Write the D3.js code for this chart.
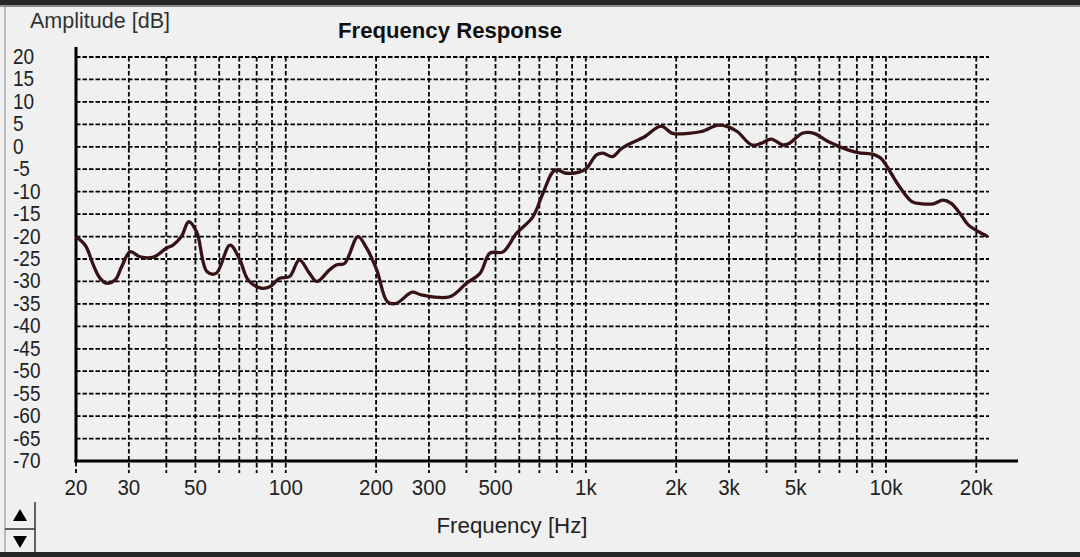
<!DOCTYPE html>
<html><head><meta charset="utf-8">
<script src="https://cdn.jsdelivr.net/npm/d3@7"></script>
<style>html,body{margin:0;padding:0;background:#f0f0f0;overflow:hidden}svg{display:block}</style>
</head><body><svg id="c" width="1080" height="557"></svg>
<script>
const freqs = [20,21.5,22.8,24.0,25.3,27.0,28.4,30.3,32.7,36.2,40,42.1,44.9,47.5,50.5,54.6,58.6,65.2,70.3,75,82.7,88.5,95.4,103,111,120,127,140,148,157,174,185,201,218,233,264,283,352,400,444,479,530,587,666,719,788,862,955,1005,1085,1140,1225,1320,1575,1780,1945,2200,2430,2760,2965,3195,3570,3850,4150,4530,4770,5270,5750,6440,7470,8060,9160,9640,10400,11100,12200,13200,14400,15450,16500,17800,18800,21800];
const amplitude = [-20.0,-22.0,-26.2,-29.2,-30.4,-29.7,-26.7,-23.4,-24.5,-24.6,-22.6,-21.9,-20.0,-16.7,-19.0,-27.8,-28.2,-21.9,-25.2,-29.7,-31.5,-31.2,-29.3,-28.9,-25.2,-28.2,-30.0,-27.4,-26.3,-26.0,-20.0,-22.3,-27.4,-34.5,-34.9,-32.4,-33.0,-33.4,-30.4,-28.2,-23.7,-23.4,-19.3,-15.6,-10.4,-5.2,-5.9,-5.6,-4.8,-1.8,-1.4,-2.2,-0.3,2.3,4.6,3.0,3.0,3.4,4.8,4.5,3.4,0.4,0.8,1.7,0.4,0.8,3.0,3.0,1.1,-0.7,-1.3,-1.8,-2.6,-5.9,-8.9,-12.2,-12.7,-12.7,-11.9,-12.6,-15.2,-17.4,-20.0];
const gridFreqs = [20,30,40,50,60,70,80,90,100,200,300,400,500,600,700,800,900,1000,2000,3000,4000,5000,6000,7000,8000,9000,10000,20000];
const xTickValues = [20,30,50,100,200,300,500,1000,2000,3000,5000,10000,20000];
const xTickLabels = ["20","30","50","100","200","300","500","1k","2k","3k","5k","10k","20k"];
const yTickValues = [20,15,10,5,0,-5,-10,-15,-20,-25,-30,-35,-40,-45,-50,-55,-60,-65,-70];
const titleText = "Frequency Response";
const yTitle = "Amplitude [dB]";
const xTitle = "Frequency [Hz]";

const svg = d3.select("#c");
const font = "'Liberation Sans', Arial, sans-serif";
const x = d3.scaleLog().domain([20, 22050]).range([76, 989]);
const y = d3.scaleLinear().domain([-70, 20]).range([461, 57]);

// frame
svg.append("rect").attr("x",0).attr("y",0).attr("width",1080).attr("height",557).attr("fill","#f0f0f0");
svg.append("rect").attr("x",0).attr("y",0).attr("width",1080).attr("height",5).attr("fill","#262626");
svg.append("rect").attr("x",0).attr("y",5).attr("width",1080).attr("height",2).attr("fill","#8a8a8a");
svg.append("rect").attr("x",0).attr("y",552).attr("width",1080).attr("height",5).attr("fill","#262626");
svg.append("line").attr("x1",5).attr("x2",5).attr("y1",7).attr("y2",552).attr("stroke","#a8a8a8").attr("stroke-width",1.5);

// horizontal grid
svg.append("g").selectAll("line").data(yTickValues.filter(v=>v>-70)).join("line")
  .attr("x1",x(20)).attr("x2",x(22050)).attr("y1",d=>y(d)).attr("y2",d=>y(d))
  .attr("stroke","#000").attr("stroke-width",1.8).attr("stroke-dasharray","4.5,2");
// vertical grid + ticks below
svg.append("g").selectAll("line").data(gridFreqs.filter(f=>f>20)).join("line")
  .attr("x1",d=>x(d)).attr("x2",d=>x(d)).attr("y1",y(20)).attr("y2",473)
  .attr("stroke","#000").attr("stroke-width",1.8).attr("stroke-dasharray","4.5,2.5");
svg.append("line").attr("x1",x(20)).attr("x2",x(20)).attr("y1",462).attr("y2",473)
  .attr("stroke","#000").attr("stroke-width",1.8).attr("stroke-dasharray","4.5,2.5");

// axes lines
svg.append("line").attr("x1",x(20)).attr("x2",x(20)).attr("y1",47).attr("y2",462.5).attr("stroke","#000").attr("stroke-width",3);
svg.append("line").attr("x1",74.5).attr("x2",1018).attr("y1",461).attr("y2",461).attr("stroke","#000").attr("stroke-width",3);

// curve
const pts = freqs.map((f,i)=>[f, amplitude[i]]);
svg.append("path").datum(pts)
  .attr("d", d3.line().x(d=>x(d[0])).y(d=>y(d[1])).curve(d3.curveCatmullRom.alpha(0.5)))
  .attr("fill","none").attr("stroke","#361214").attr("stroke-width",3.3).attr("stroke-linejoin","round");

// y labels
svg.append("g").selectAll("text").data(yTickValues).join("text")
  .attr("transform",d=>`translate(13,${y(d)+7}) scale(0.95,1.1)`).attr("font-family",font).attr("font-size",20).attr("fill","#222")
  .text(d=>String(d));
// x labels
svg.append("g").selectAll("text").data(xTickValues).join("text")
  .attr("transform",d=>`translate(${x(d)},495) scale(1,1.1)`).attr("text-anchor","middle").attr("font-family",font).attr("font-size",20.5).attr("fill","#222")
  .text((d,i)=>xTickLabels[i]);

// titles
svg.append("text").attr("x",450).attr("y",38).attr("text-anchor","middle").attr("font-family",font)
  .attr("font-weight","bold").attr("font-size",21.5).attr("fill","#111").attr("textLength",224).attr("lengthAdjust","spacingAndGlyphs").text(titleText);
svg.append("text").attr("x",30).attr("y",28).attr("font-family",font).attr("font-size",21.5).attr("fill","#333")
  .attr("textLength",140).attr("lengthAdjust","spacingAndGlyphs").text(yTitle);
svg.append("text").attr("x",512).attr("y",533).attr("text-anchor","middle").attr("font-family",font).attr("font-size",21.5).attr("fill","#222")
  .attr("textLength",151).attr("lengthAdjust","spacingAndGlyphs").text(xTitle);

// spin buttons
const sb = svg.append("g");
sb.append("line").attr("x1",35).attr("x2",35).attr("y1",502).attr("y2",552).attr("stroke","#333").attr("stroke-width",1.5);
sb.append("line").attr("x1",5).attr("x2",35).attr("y1",529).attr("y2",529).attr("stroke","#333").attr("stroke-width",1.5);
sb.append("path").attr("d","M20,509L27,521L13,521Z").attr("fill","#000");
sb.append("path").attr("d","M13,536L27,536L20,548Z").attr("fill","#000");
</script></body></html>
